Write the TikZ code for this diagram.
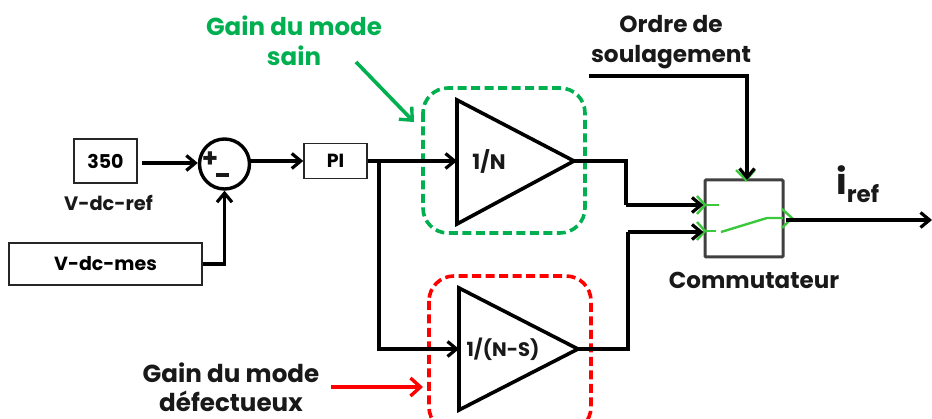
\documentclass[tikz,border=0pt]{standalone}
\usepackage{fontspec}
\setmainfont{Poppins}
\usetikzlibrary{arrows.meta}
\definecolor{gsain}{RGB}{0,176,80}
\definecolor{gsw}{RGB}{60,200,60}
\tikzset{
 txt/.style={font=\bfseries\fontsize{#1}{#1}\selectfont,inner sep=0pt,align=center,text=black!90},
 box/.style={draw=black!85,line width=1.5pt,inner sep=0pt,font=\bfseries\fontsize{19}{19}\selectfont},
 wire/.style={line width=3.6pt,draw=black,line join=miter},
 arr/.style={wire,-{Straight Barb[length=9pt,width=15pt,line width=3.2pt]}},
 bigarr/.style={wire,-{Straight Barb[length=10pt,width=18pt,line width=3.4pt]}},
 tri/.style={draw=black,line width=3.6pt,line join=miter},
 dbox/.style={line width=3.6pt,dash pattern=on 9pt off 4.5pt,rounded corners=25pt},
 swg/.style={draw=gsw,line width=2.4pt},
}
\begin{document}
\begin{tikzpicture}[x=1pt,y=-1pt]
\useasboundingbox (0,0) rectangle (932,419);
\clip (0,0) rectangle (932,419);
% blocks
\node[box,minimum width=63pt,minimum height=44pt] (ref) at (105.5,161) {350};
\node[txt=19.4] (reflab) at (108.5,203) {V-dc-ref};
\node[box,minimum width=193pt,minimum height=42pt] (mes) at (105.5,264) {V-dc-mes};
\node[circle,draw=black,line width=3.4pt,minimum size=50pt,inner sep=0pt] (sum) at (224.5,164) {};
\node[txt=26] (plus) at (210,160) {+};
\node[txt=25] (minus) at (222,175) {\rule{13pt}{3.8pt}};
\node[box,minimum width=63pt,minimum height=35pt] (pi) at (335.5,161) {PI};
% triangles
\coordinate (ta) at (457,100); \coordinate (tb) at (457,224); \coordinate (tc) at (574,161);
\coordinate (ba) at (459,288); \coordinate (bb) at (459,410); \coordinate (bc) at (578,349);
\draw[tri] (ta) -- (tb) -- (tc) -- cycle;
\draw[tri] (ba) -- (bb) -- (bc) -- cycle;
\node[txt=21] (n1) at (489,161) {1/N};
\node[txt=19.5] (n2) at (503,349) {1/(N-S)};
% dashed boxes
\draw[dbox,draw=gsain] (423,88) rectangle (585,233);
\draw[dbox,draw=red] (429,276) rectangle (591,432);
% commutator
\node[draw=black!75,line width=3pt,rounded corners=1pt,minimum width=78pt,minimum height=77pt,inner sep=0pt] (com) at (744,218.5) {};
\draw[swg] (697,196) -- (705,205) -- (697,214);
\draw[swg] (697,222) -- (705,231) -- (697,240);
\draw[swg] (705,205) -- (719,205);
\draw[swg] (705,231) -- (716,231);
\draw[swg] (721,232) -- (767,218) -- (783,218);
\draw[swg] (736,170) -- (746,180) -- (755,170);
\draw[swg] (782,209) -- (792,218) -- (782,228);
% labels
\node[txt=24.5,text=gsain] (gs) at (294,41) {Gain du mode\\[6pt]sain};
\node[txt=23.2] (os) at (671,42) {Ordre de\\[7pt]soulagement};
\node[txt=24.6] (gd) at (231,387) {Gain du mode\\[4pt]défectueux};
\node[txt=23] (cl) at (754,280) {Commutateur};
\node[txt=36,anchor=base west] (iref) at (836,195) {i\raisebox{-8pt}{\fontsize{23}{23}\selectfont ref}};
% connector coordinates
\coordinate (os0) at (589,76);
\coordinate (osk) at (747,76);
\coordinate (osend) at (747,180);
\coordinate (sg0) at (356,62);
\coordinate (sg1) at (414,122);
\coordinate (sr0) at (331,387);
\coordinate (sr1) at (423,387);
\coordinate (out) at (932,220);
\coordinate (st) at (142,163);
\coordinate (so) at (250,161);
\coordinate (br) at (379,161);
\coordinate (ku) at (626,161);
\coordinate (kv) at (626,205);
\coordinate (kw) at (628,349);
\coordinate (kx) at (628,232);
\coordinate (cout) at (786,220);
% connectors
\draw[arr] (st) -- (sum.west |- st);
\draw[arr] (so) -- (pi.west);
\draw[arr] (mes.east) -| (sum.south);
\draw[arr] (pi.east) -- (ta |- pi.east);
\draw[arr] (br) |- (ba |- bc);
\draw[wire] (tc) -- (ku) -- (kv);
\draw[arr] (ku |- kv) -- (com.west |- kv);
\draw[wire] (bc) -- (kw) -- (kx);
\draw[arr] (kw |- kx) -- (com.west |- kx);
\draw[arr] (cout) -- (out);
\draw[arr] (os0) -- (osk) -- (osend);
\draw[bigarr,draw=gsain] (sg0) -- (sg1);
\draw[bigarr,draw=red] (sr0) -- (sr1);
\end{tikzpicture}
\end{document}
